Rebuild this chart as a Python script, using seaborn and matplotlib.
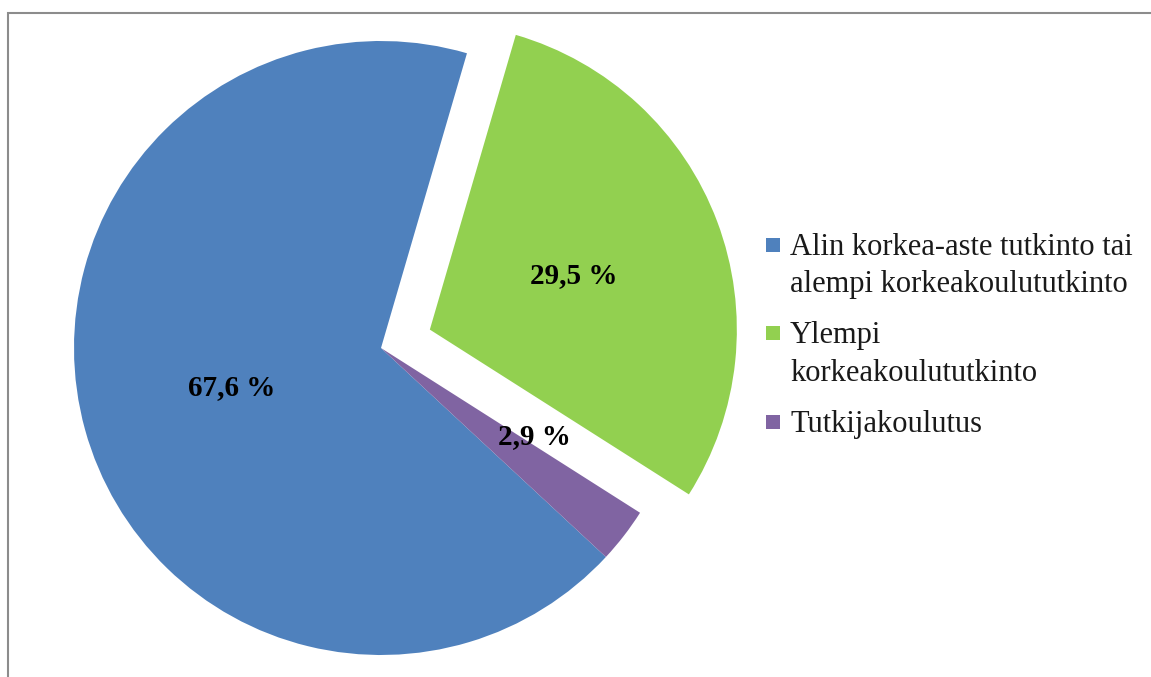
import matplotlib
matplotlib.use("Agg")
import matplotlib.pyplot as plt
import matplotlib.patches as mpatches
from matplotlib.lines import Line2D
import seaborn as sns

# data
labels = ["Alin korkea-aste tutkinto tai\nalempi korkeakoulututkinto",
          "Ylempi\nkorkeakoulututkinto",
          "Tutkijakoulutus"]
shares = [67.6, 29.5, 2.9]
colors = ["#4F81BD", "#92D050", "#8064A2"]
explode = [0, 0.17, 0]

sns.set_theme(style="white")
plt.rcParams["font.family"] = ["Liberation Serif", "DejaVu Serif"]

W, H = 1151, 677
fig = plt.figure(figsize=(W / 100, H / 100), dpi=100)

# pie axes: centre at (381, 348) px, radius 307 px
R = 307
lim = 1.3
side = 2 * lim * R
cx, cy = 381, H - 348
ax = fig.add_axes([(cx - side / 2) / W, (cy - side / 2) / H, side / W, side / H])

wedges, texts, autotexts = ax.pie(
    shares, colors=colors, explode=explode, startangle=-42.9,
    counterclock=False, autopct=lambda p: f"{p:.1f} %".replace(".", ","),
    pctdistance=0.5, wedgeprops=dict(linewidth=0),
    textprops=dict(fontsize=21, fontweight="bold", color="black"))
ax.set_xlim(-lim, lim)
ax.set_ylim(-lim, lim)
ax.set_aspect("equal")
ax.axis("off")

# label placement like the original
autotexts[0].set_position((-0.485, -0.13))
autotexts[2].set_position((0.50, -0.29))

# legend with square markers, aligned to the first line of each label
handles = [Line2D([], [], linestyle="none", marker="s", markersize=10.5,
                  markerfacecolor=c, markeredgewidth=0) for c in colors]
leg = fig.legend(handles, labels, loc="upper left",
                 bbox_to_anchor=(765 / W, 1 - 233 / H),
                 frameon=False, fontsize=22, handlelength=0.5,
                 handleheight=1.0, handletextpad=0.32, labelspacing=0.72,
                 borderaxespad=0, borderpad=0)
for t in leg.get_texts():
    t.set_linespacing(1.38)
    t.set_color("#1a1a1a")
for col in leg._legend_handle_box.get_children():
    for row in col.get_children():
        row.align = "top"

# outer frame of the chart area
fig.patches.append(mpatches.Rectangle(
    (8 / W, -0.1), 1.2, 1 - 13 / H + 0.1, transform=fig.transFigure,
    fill=False, edgecolor="#8c8c8c", linewidth=1.5))

fig.savefig("out.png", dpi=100)
